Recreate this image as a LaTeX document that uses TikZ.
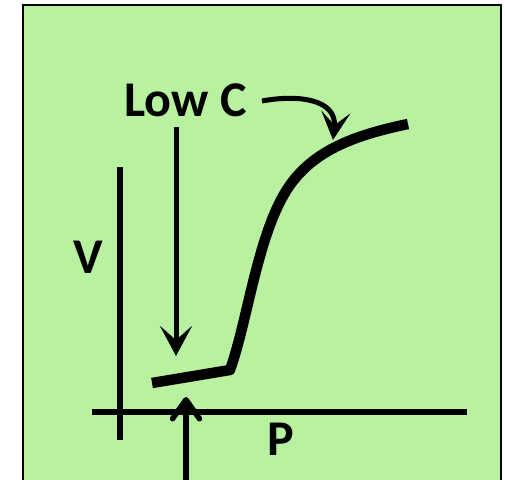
\documentclass[tikz,border=0pt]{standalone}
\usepackage{fontspec}
\setmainfont{Carlito}
\usetikzlibrary{arrows.meta}
\definecolor{PanelGreen}{HTML}{B8F2A0}

\begin{document}
\begin{tikzpicture}[x=1pt, y=-1pt,
    axis/.style={line width=5.5pt},
    pointer/.style={line width=5pt, -{Stealth[length=30pt, width=32pt, inset=14pt]}},
    lift/.style={line width=5.5pt, -{Straight Barb[length=19pt, width=27pt, round]}},
    curve/.style={line width=10.5pt, line join=round},
    lbl/.style={font=\fontsize{50}{54}\selectfont\bfseries, anchor=base, inner sep=0pt}
  ]
    \useasboundingbox (0,0) rectangle (505,479);
    \clip (0,0) rectangle (505,479);
    \draw[line width=2.5pt, fill=PanelGreen] (23,5) rectangle (501,495);

    % labels
    \node[lbl] (lowc) at (185.5,116) {Low C};
    \node[lbl] (vlab) at (88,273) {V};
    \node[lbl] (plab) at (281,455) {P};

    % axes
    \coordinate (vtop) at (120,167);
    \coordinate (vbot) at (120,440);
    \coordinate (pleft) at (92,412);
    \coordinate (pright) at (467,412);
    \draw[axis] (vtop) -- (vbot);
    \draw[axis] (pleft) -- (pright);

    % the curve
    \coordinate (c0) at (152,383);
    \coordinate (knee) at (230,370);
    \coordinate (mid) at (290,185);
    \coordinate (c1) at (408,124);
    \draw[curve] (c0) -- (knee)
      .. controls (248,320) and (258,230) .. (mid)
      .. controls (315,150) and (355,135) .. (c1);

    % arrows
    \coordinate (dstart) at (176,127);
    \coordinate (dtip) at (176,356);
    \draw[pointer] (dstart) -- (dtip);

    \coordinate (cstart) at (262,101);
    \coordinate (ctip) at (333,140);
    \draw[pointer, -{Stealth[length=28pt, width=29pt, inset=13pt]}] (cstart) .. controls (300,94) and (337,100) .. (ctip);

    \coordinate (ubot) at (186,485);
    \coordinate (utip) at (186,397);
    \draw[lift] (ubot) -- (utip);
\end{tikzpicture}
\end{document}
